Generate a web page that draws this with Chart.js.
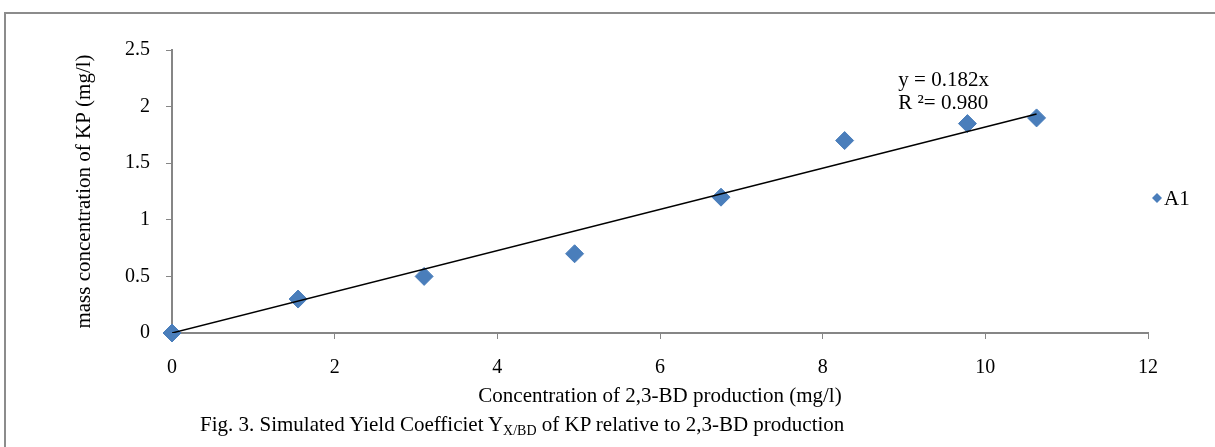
<!DOCTYPE html>
<html>
<head>
<meta charset="utf-8">
<script src="https://cdn.jsdelivr.net/npm/chart.js@4/dist/chart.umd.min.js"></script>
<style>
  html, body { margin: 0; padding: 0; background: #fff; }
  #wrap { position: relative; width: 1215px; height: 447px; }
  #frame {
    position: absolute; left: 4px; top: 12px; right: 0; bottom: 0;
    border-left: 2px solid #8c8c8c; border-top: 2px solid #8c8c8c;
    pointer-events: none;
  }
  #caption {
    position: absolute; left: 200px; top: 412px;
    font: 21px "Liberation Serif", serif; color: #000; white-space: nowrap;
  }
  #caption sub { font-size: 14px; vertical-align: -4px; }
</style>
</head>
<body>
<div id="wrap">
  <canvas id="grafico" width="1215" height="447"></canvas>
  <div id="frame"></div>
  <div id="caption">Fig. 3. Simulated Yield Coefficiet Y<sub>X/BD</sub> of KP relative to 2,3-BD production</div>
</div>
<script>
// valores
const concBD = [0, 1.55, 3.1, 4.95, 6.75, 8.27, 9.78, 10.63];
const massaKP = [0, 0.3, 0.5, 0.7, 1.2, 1.7, 1.85, 1.9];
const inclinacao = 0.182;
const xTicks = [0, 2, 4, 6, 8, 10, 12];
const yTicks = [0, 0.5, 1, 1.5, 2, 2.5];

const fonte = "'Liberation Serif', 'Times New Roman', serif";
const cinza = '#868686';
const azul = '#4a7ebb';

const pontos = concBD.map((x, i) => ({ x: x, y: massaKP[i] }));
const tendencia = [
    { x: 0, y: 0 },
    { x: concBD[concBD.length - 1], y: inclinacao * concBD[concBD.length - 1] }
];

// texto da equação e legenda desenhados à mão
const extras = {
    id: 'extras',
    afterDatasetsDraw(chart) {
        const ctx = chart.ctx;
        const sx = chart.scales.x, sy = chart.scales.y;
        ctx.save();
        ctx.font = '21px ' + fonte;
        ctx.fillStyle = '#000';
        ctx.textAlign = 'left';
        ctx.textBaseline = 'middle';
        ctx.fillText('y = 0.182x', sx.getPixelForValue(8.93), sy.getPixelForValue(2.235));
        ctx.fillText('R ²= 0.980', sx.getPixelForValue(8.93), sy.getPixelForValue(2.03));

        // legenda
        const lx = chart.chartArea.right + 9;
        const ly = 198;
        ctx.fillStyle = azul;
        ctx.beginPath();
        ctx.moveTo(lx, ly - 5);
        ctx.lineTo(lx + 5, ly);
        ctx.lineTo(lx, ly + 5);
        ctx.lineTo(lx - 5, ly);
        ctx.closePath();
        ctx.fill();
        ctx.fillStyle = '#000';
        ctx.fillText('A1', lx + 7, ly + 1);
        ctx.restore();
    }
};

new Chart('grafico', {
    type: 'scatter',
    data: {
        datasets: [{
            label: 'A1',
            data: pontos,
            backgroundColor: azul,
            borderColor: azul,
            pointStyle: 'rectRot',
            pointRadius: 9,
            pointHoverRadius: 9,
            clip: false,
            order: 2
        }, {
            label: 'Linear (A1)',
            type: 'line',
            data: tendencia,
            borderColor: '#000',
            borderWidth: 1.5,
            pointRadius: 0,
            fill: false,
            order: 1
        }]
    },
    options: {
        responsive: false,
        animation: false,
        layout: { padding: { left: 0, top: 50, right: 67, bottom: 0 } },
        plugins: {
            legend: { display: false },
            tooltip: { enabled: false }
        },
        scales: {
            x: {
                type: 'linear',
                min: 0,
                max: 12,
                afterBuildTicks: s => { s.ticks = xTicks.map(v => ({ value: v })); },
                afterFit: s => { s.height = 114; },
                grid: { drawOnChartArea: false, color: cinza, tickLength: 6, tickColor: cinza },
                border: { color: cinza, width: 2 },
                ticks: { color: '#000', padding: 17, font: { family: fonte, size: 20 } },
                title: {
                    display: true,
                    text: 'Concentration of 2,3-BD production (mg/l)',
                    color: '#000',
                    padding: { top: 0, bottom: 38 },
                    font: { family: fonte, size: 21 }
                }
            },
            y: {
                type: 'linear',
                min: 0,
                max: 2.5,
                afterBuildTicks: s => { s.ticks = yTicks.map(v => ({ value: v })); },
                afterFit: s => { s.width = 172; },
                grid: { drawOnChartArea: false, color: cinza, tickLength: 6, tickColor: cinza },
                border: { color: cinza, width: 2 },
                ticks: {
                    color: '#000',
                    padding: 16,
                    font: { family: fonte, size: 20 },
                    callback: v => String(v)
                },
                title: {
                    display: true,
                    text: 'mass concentration of KP (mg/l)',
                    color: '#000',
                    padding: { top: 72, bottom: 0 },
                    font: { family: fonte, size: 21 }
                }
            }
        }
    },
    plugins: [extras]
});
</script>
</body>
</html>
